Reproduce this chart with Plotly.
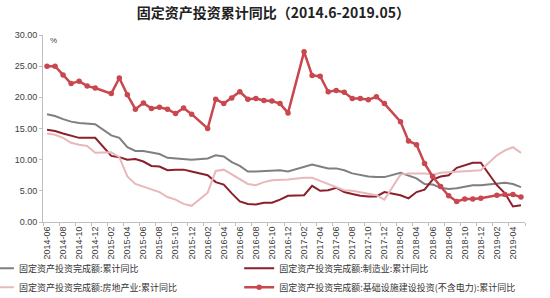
import plotly.graph_objects as go

months = []
for y in range(2014, 2020):
    for m in range(1, 13):
        if (y == 2014 and m < 6) or (y == 2019 and m > 5):
            continue
        months.append(f"{y}-{m:02d}")

total = [17.3, 17.0, 16.5, 16.1, 15.9, 15.8, 15.7,
         None, 13.9, 13.5, 12.0, 11.4, 11.4, 11.2, 10.9, 10.3, 10.2, 10.2, 10.0,
         None, 10.2, 10.7, 10.5, 9.6, 9.0, 8.1, 8.1, 8.2, 8.3, 8.3, 8.1,
         None, 8.9, 9.2, 8.9, 8.6, 8.6, 8.3, 7.8, 7.5, 7.3, 7.2, 7.2,
         None, 7.9, 7.5, 7.0, 6.1, 6.0, 5.5, 5.3, 5.4, 5.7, 5.9, 5.9,
         None, 6.1, 6.3, 6.1, 5.6]

manufacturing = [14.8, 14.6, 14.2, 13.8, 13.5, 13.5, 13.5,
                 None, 10.6, 10.4, 10.0, 10.1, 9.7, 9.0, 8.9, 8.3, 8.4, 8.4, 8.1,
                 None, 7.5, 6.4, 6.0, 4.6, 3.3, 2.9, 2.8, 3.1, 3.1, 3.6, 4.2,
                 None, 4.3, 5.8, 5.0, 5.1, 5.5, 4.8, 4.5, 4.2, 4.1, 4.1, 4.8,
                 None, 4.3, 3.8, 4.8, 5.2, 6.8, 7.3, 7.5, 8.7, 9.1, 9.5, 9.5,
                 None, 5.9, 4.6, 2.5, 2.7]

real_estate = [14.2, 14.0, 13.5, 12.7, 12.4, 12.2, 11.1,
               None, 11.2, 10.4, 7.3, 6.1, 5.7, 5.3, 4.8, 4.0, 3.6, 2.9, 2.6,
               None, 4.7, 8.2, 8.4, 7.6, 6.9, 6.1, 5.9, 6.4, 6.7, 6.7, 6.8,
               None, 7.1, 7.1, 6.6, 6.1, 5.5, 5.1, 5.0, 4.8, 4.6, 4.3, 3.6,
               None, 7.6, 7.8, 7.8, 7.8, 7.6, 7.9, 8.0, 8.1, 8.1, 8.2, 8.3,
               None, 10.7, 11.5, 12.0, 11.1]

infrastructure = [25.0, 25.0, 23.6, 22.2, 22.6, 21.8, 21.5,
                  None, 20.6, 23.1, 20.4, 18.1, 19.1, 18.2, 18.4, 18.1, 17.4, 18.3, 17.3,
                  None, 15.0, 19.7, 19.0, 19.9, 20.9, 19.7, 19.8, 19.5, 19.4, 19.0, 17.5,
                  None, 27.3, 23.5, 23.4, 20.9, 21.1, 20.8, 19.8, 19.8, 19.6, 20.1, 19.0,
                  None, 16.1, 13.0, 12.4, 9.4, 7.3, 5.7, 4.2, 3.3, 3.7, 3.7, 3.8,
                  None, 4.3, 4.4, 4.4, 4.0]

names = ["固定资产投资完成额:累计同比",
         "固定资产投资完成额:制造业:累计同比",
         "固定资产投资完成额:房地产业:累计同比",
         "固定资产投资完成额:基础设施建设投资(不含电力):累计同比"]

cjk = "Noto Sans CJK SC"
fig = go.Figure()
fig.add_trace(go.Scatter(x=months, y=total, name=names[0], mode="lines", legend="legend",
                         line=dict(color="#7f7f7f", width=2), connectgaps=True))
fig.add_trace(go.Scatter(x=months, y=manufacturing, name=names[1], mode="lines", legend="legend2",
                         line=dict(color="#8b1f2b", width=2), connectgaps=True))
fig.add_trace(go.Scatter(x=months, y=real_estate, name=names[2], mode="lines", legend="legend3",
                         line=dict(color="#e8b8ba", width=2), connectgaps=True))
fig.add_trace(go.Scatter(x=months, y=infrastructure, name=names[3], mode="lines+markers",
                         legend="legend4",
                         line=dict(color="#c9474f", width=2.5),
                         marker=dict(size=5.5, color="#c9474f"), connectgaps=True))

leg_common = dict(orientation="v", xanchor="left", yanchor="middle",
                  font=dict(family=cjk, size=9, color="#333333"),
                  bgcolor="rgba(0,0,0,0)", itemwidth=30)
row1, row2 = -0.247, -0.349
col1, col2 = -0.133, 0.407

fig.update_layout(
    width=550, height=298,
    margin=dict(l=43, r=25, t=35, b=76, autoexpand=False),
    paper_bgcolor="white", plot_bgcolor="white",
    title=dict(text="<b>固定资产投资累计同比（2014.6-2019.05）</b>",
               x=0.497, xanchor="center", y=0.956, yanchor="middle",
               font=dict(family=cjk, size=14, color="#222222")),
    xaxis=dict(type="category", range=[-0.5, 59.5], dtick=2, tick0=0,
               tickangle=-90, tickfont=dict(family="Liberation Sans", size=9, color="#404040"),
               showline=True, linecolor="#bfbfbf", linewidth=1,
               ticks="outside", ticklen=3, tickcolor="#bfbfbf", tickson="boundaries",
               showgrid=False, zeroline=False),
    yaxis=dict(range=[0, 30], dtick=5, tickformat=".2f",
               tickfont=dict(family="Liberation Sans", size=9, color="#404040"),
               showline=True, linecolor="#bfbfbf", linewidth=1,
               ticks="outside", ticklen=3, tickcolor="#bfbfbf",
               showgrid=False, zeroline=False),
    legend=dict(x=col1, y=row1, **leg_common),
    legend2=dict(x=col2, y=row1, **leg_common),
    legend3=dict(x=col1, y=row2, **leg_common),
    legend4=dict(x=col2, y=row2, **leg_common),
    showlegend=True,
)
fig.add_annotation(text="%", xref="paper", yref="paper", x=0.01, y=0.97,
                   xanchor="left", yanchor="middle", showarrow=False,
                   font=dict(family="Liberation Sans", size=8, color="#404040"))

fig.write_html("out.html")
